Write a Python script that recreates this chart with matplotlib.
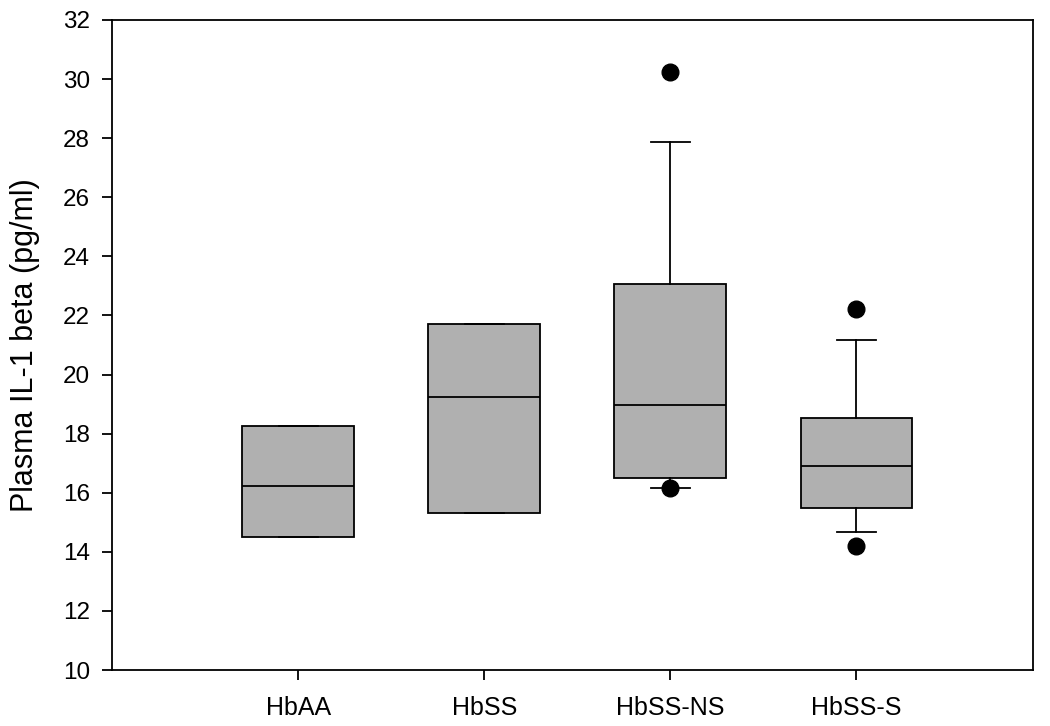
import matplotlib
matplotlib.use("Agg")
import matplotlib.pyplot as plt

# valores (pg/ml)
grupos = ["HbAA", "HbSS", "HbSS-NS", "HbSS-S"]
q1 = [14.5, 15.32, 16.5, 15.47]
mediana = [16.23, 19.24, 18.97, 16.91]
q3 = [18.26, 21.72, 23.05, 18.52]
whis_baixo = [14.5, 15.32, 16.15, 14.68]
whis_alto = [18.26, 21.72, 27.88, 21.16]
outliers = [[], [], [30.25, 16.15], [22.21, 14.21]]

plt.rcParams['font.family'] = ['Liberation Sans', 'DejaVu Sans']

stats = []
for i, g in enumerate(grupos):
    stats.append(dict(label=g, q1=q1[i], med=mediana[i], q3=q3[i],
                      whislo=whis_baixo[i], whishi=whis_alto[i],
                      fliers=outliers[i]))

fig = plt.figure(figsize=(10.5, 7.26), dpi=100)
ax = fig.add_axes([0.1067, 0.0771, 0.8773, 0.8954])

lw = 1.3
ax.bxp(stats, positions=[1, 2, 3, 4], widths=0.6, capwidths=0.21,
       patch_artist=True,
       boxprops=dict(facecolor='#b0b0b0', edgecolor='black', linewidth=lw),
       medianprops=dict(color='black', linewidth=lw),
       whiskerprops=dict(color='black', linewidth=lw),
       capprops=dict(color='black', linewidth=lw),
       flierprops=dict(marker='o', markerfacecolor='black',
                       markeredgecolor='black', markersize=12))

ax.set_xlim(0, 4.95)
ax.set_ylim(10, 32)
ax.set_yticks(range(10, 33, 2))
ax.set_xticks([1, 2, 3, 4])
ax.set_xticklabels(grupos)
ax.tick_params(axis='both', direction='out', length=7, width=lw, color='black')
ax.tick_params(axis='x', pad=12, labelsize=18)
ax.tick_params(axis='y', pad=9, labelsize=17.5)
for s in ax.spines.values():
    s.set_linewidth(lw)

ax.set_ylabel("Plasma IL-1 beta (pg/ml)", fontsize=22)
ax.yaxis.set_label_coords(-0.078, 0.5)

fig.savefig("out.png", dpi=100)
